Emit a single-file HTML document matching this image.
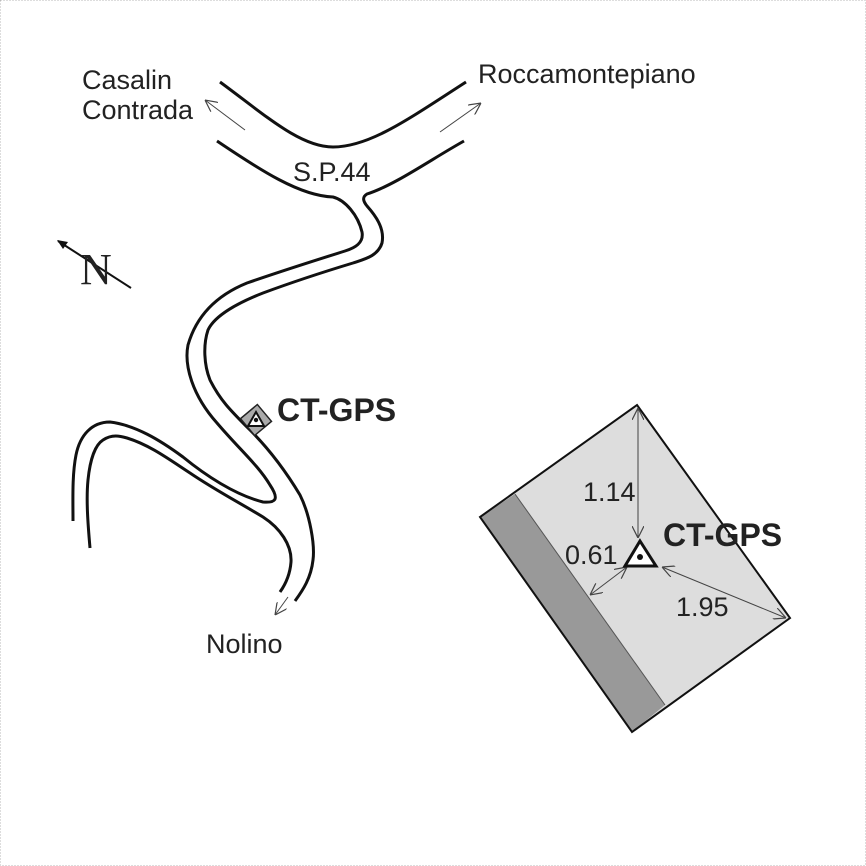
<!DOCTYPE html>
<html><head><style>
html,body{margin:0;padding:0;background:#fff}
svg{display:block}
text{font-family:"Liberation Sans",sans-serif;fill:#222}
</style></head><body>
<svg width="866" height="866" viewBox="0 0 866 866">
<defs>
<marker id="a" viewBox="0 0 10 10" refX="10" refY="5" markerWidth="12" markerHeight="12" markerUnits="userSpaceOnUse" orient="auto-start-reverse">
<path d="M0,0 L10,5 L0,10" fill="none" stroke="#444" stroke-width="1"/>
</marker>
</defs>
<rect x="0.5" y="0.5" width="865" height="865" fill="none" stroke="#bbb" stroke-dasharray="1,2"/>
<g fill="none" stroke="#111" stroke-width="3" stroke-linecap="butt">
<path d="M220,82 C265,115 300,147 333,147 C370,147 410,118 466,82"/>
<path d="M217,141 C260,170 300,196 333,197 C345,200 358,215 362,232 C364,243 355,248 345,251 C310,262 270,275 247,283 C215,296 196,317 188,345 C184,365 192,395 217,423 C240,450 258,465 270,485 C280,500 275,503 263,502 C235,495 205,475 183,457 C160,440 135,425 110,422 C92,422 80,435 76,455 C72,475 73,500 73,521"/>
<path d="M464,141 C430,160 395,185 367,194 C362,197 363,201 367,206 C375,215 385,228 382,243 C378,256 365,259 353,263 C320,273 290,283 263,293 C240,302 215,315 208,330 C203,345 204,365 210,380 C220,400 230,410 250,430 C270,450 285,470 300,495 C310,515 315,545 313,560 C311,578 303,590 295,601"/>
<path d="M90,548 C88,525 86,500 88,480 C90,460 95,445 103,440 C112,434 120,436 127,438 C150,445 170,460 190,473 C215,490 240,503 263,517 C280,528 292,545 291,562 C290,575 285,585 280,592"/>
</g>
<g stroke="#444" stroke-width="1" fill="none">
<line x1="245" y1="130" x2="205" y2="100" marker-end="url(#a)"/>
<line x1="440" y1="132" x2="481" y2="103" marker-end="url(#a)"/>
<line x1="288" y1="597" x2="275" y2="615" marker-end="url(#a)"/>
</g>
<line x1="131" y1="288" x2="58" y2="241" stroke="#111" stroke-width="2"/>
<path d="M57,240 L68,242 L63,249 Z" fill="#111"/>
<text x="80" y="284" style="font-family:'Liberation Serif',serif;font-size:44px" fill="#111">N</text>
<g transform="translate(256,420) rotate(-40)">
<rect x="-11" y="-11" width="22" height="22" fill="#aaa" stroke="#222" stroke-width="1.5"/>
<path d="M0,-8 L8,6 L-8,6 Z" fill="#fff" stroke="#111" stroke-width="2" transform="rotate(40)"/>
<circle cx="0" cy="0" r="2.2" fill="#111"/>
</g>
<text x="277" y="421" style="font-size:32px;font-weight:bold" fill="#111">CT-GPS</text>
<text x="82" y="89" style="font-size:27px">Casalin</text>
<text x="82" y="119" style="font-size:27px">Contrada</text>
<text x="478" y="83" style="font-size:27px">Roccamontepiano</text>
<text x="293" y="181" style="font-size:27px">S.P.44</text>
<text x="206" y="653" style="font-size:27px">Nolino</text>
<polygon points="637,405 790,618 632,732 480,517" fill="#ddd"/>
<polygon points="480,517 515,494 665,705 632,732" fill="#999"/>
<line x1="515" y1="494" x2="665" y2="705" stroke="#555" stroke-width="1"/>
<polygon points="637,405 790,618 632,732 480,517" fill="none" stroke="#111" stroke-width="2"/>
<g stroke="#444" stroke-width="1" fill="none">
<line x1="638" y1="408" x2="638" y2="538" marker-start="url(#a)" marker-end="url(#a)"/>
<line x1="627" y1="567" x2="590" y2="595" marker-start="url(#a)" marker-end="url(#a)"/>
<line x1="662" y1="567" x2="786" y2="618" marker-start="url(#a)" marker-end="url(#a)"/>
</g>
<path d="M640,541 L656,566 L625,566 Z" fill="#fff" stroke="#111" stroke-width="3" stroke-linejoin="miter"/>
<circle cx="640" cy="557" r="3" fill="#111"/>
<text x="583" y="501" style="font-size:27px">1.14</text>
<text x="565" y="564" style="font-size:27px">0.61</text>
<text x="676" y="616" style="font-size:27px">1.95</text>
<text x="663" y="546" style="font-size:32px;font-weight:bold" fill="#111">CT-GPS</text>
</svg>
</body></html>
